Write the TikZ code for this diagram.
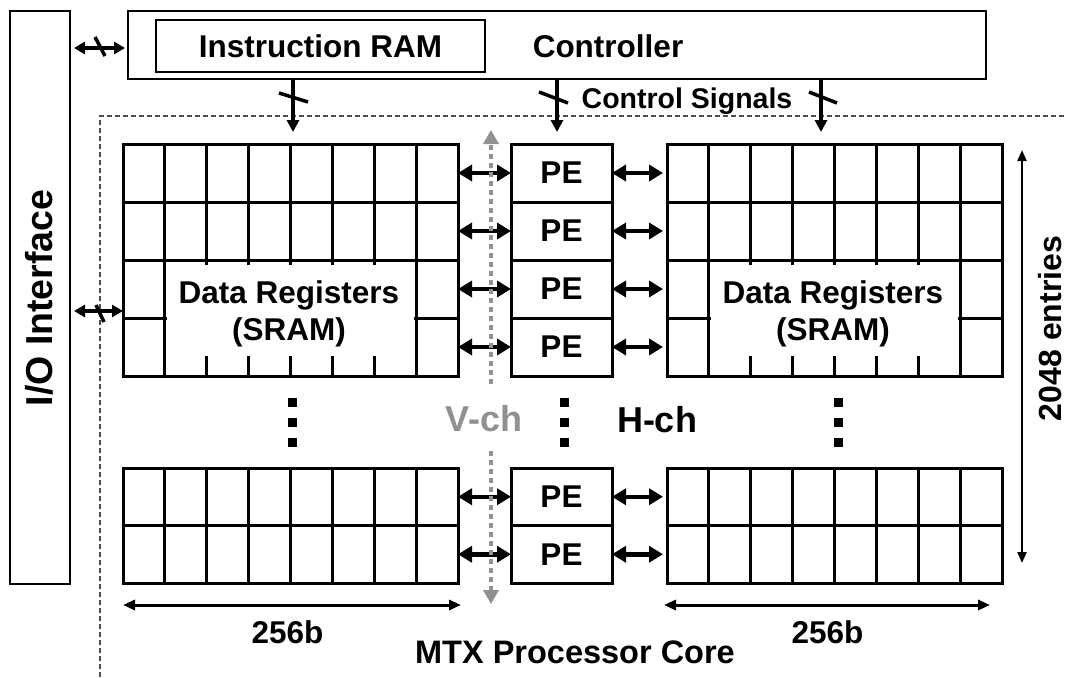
\documentclass[tikz,border=0pt]{standalone}
\usepackage{fontspec}
\setmainfont{Liberation Sans}
\usetikzlibrary{arrows.meta}
\definecolor{vgray}{RGB}{145,145,145}
\begin{document}
\begin{tikzpicture}[x=1pt,y=-1pt,
  big/.style={font=\fontsize{31.5}{37}\selectfont\bfseries, inner sep=0pt},
  chan/.style={font=\fontsize{36}{40}\selectfont\bfseries, inner sep=0pt},
  rot/.style={font=\fontsize{37.5}{42}\selectfont\bfseries, inner sep=0pt, rotate=90, anchor=base},
  box/.style={draw, line width=2.8pt, inner sep=0pt, outer sep=0pt},
  rowbox/.style={draw, line width=3pt, minimum width=335pt, minimum height=58pt, inner sep=0pt, outer sep=0pt},
  rowlow/.style={rowbox, minimum height=57.5pt},
  pebox/.style={draw, line width=3pt, minimum width=101pt, minimum height=58pt, inner sep=0pt, outer sep=0pt, font=\fontsize{31.5}{37}\selectfont\bfseries},
  pelow/.style={pebox, minimum height=57.5pt},
  gridl/.style={line width=3pt},
  dbl/.style={line width=4.5pt, {Triangle[length=14pt,width=16pt]}-{Triangle[length=14pt,width=16pt]}},
  dblsmall/.style={line width=3.5pt, {Triangle[length=11pt,width=12pt]}-{Triangle[length=11pt,width=12pt]}},
  ctl/.style={line width=3.5pt, -{Triangle[length=12pt,width=12pt]}},
  slash/.style={line width=3.5pt},
  dimarr/.style={line width=3pt, {Triangle[length=12pt,width=10pt]}-{Triangle[length=12pt,width=10pt]}},
  thinarr/.style={line width=2.2pt, {Triangle[length=11pt,width=9pt]}-{Triangle[length=11pt,width=9pt]}},
  vch/.style={line width=4.5pt, vgray, dash pattern=on 4.5pt off 4.5pt, {Triangle[length=14pt,width=15pt]}-{Triangle[length=14pt,width=15pt]}},
  edge/.style={line width=1.5pt, black!70, dash pattern=on 5pt off 3pt},
  dotsq/.style={fill=black}
]
\useasboundingbox (0,0) rectangle (1067,677);

% core boundary
\draw[edge] (100,677) -- (100,116) -- (1067,116);

% I/O interface and controller
\node[box, minimum width=60pt, minimum height=573pt] (io) at (40,297.5) {};
\node[rot] at (52,298) {I/O Interface};
\node[box, minimum width=858pt, minimum height=68pt] (ctrl) at (557,45) {};
\node[box, big, minimum width=329pt, minimum height=52pt] (iram) at (320.5,46) {Instruction RAM};
\node[big, anchor=base] (ctrltxt) at (608,58) {Controller};

% grid rows
\foreach \i/\y in {1/173,2/231,3/289,4/347} {
  \node[rowbox] (L\i) at (290.5,\y) {};
  \node[rowbox] (R\i) at (834.5,\y) {};
  \node[pebox] (P\i) at (561.5,\y) {PE};
}
\foreach \i/\y in {5/496.75,6/554.25} {
  \node[rowlow] (L\i) at (290.5,\y) {};
  \node[rowlow] (R\i) at (834.5,\y) {};
  \node[pelow] (P\i) at (561.5,\y) {PE};
}
\foreach \k in {1,...,7} {
  \draw[gridl] (123+\k*41.875,144) -- (123+\k*41.875,376);
  \draw[gridl] (123+\k*41.875,468) -- (123+\k*41.875,583);
  \draw[gridl] (667+\k*41.875,144) -- (667+\k*41.875,376);
  \draw[gridl] (667+\k*41.875,468) -- (667+\k*41.875,583);
}
\fill[white] (166.6,264.5) rectangle (414.4,355.5);
\fill[white] (710.6,264.5) rectangle (958.4,355.5);
\node[big, align=center] (dl) at (289,313.5) {Data Registers\\(SRAM)};
\node[big, align=center] (dr) at (833,313.5) {Data Registers\\(SRAM)};

% PE connections
\foreach \i in {1,...,6} {
  \draw[dbl] (L\i.east) -- (P\i.west);
  \draw[dbl, shorten >=4pt] (P\i.east) -- (R\i.west);
}

% controller connections
\coordinate (yio) at (0,48);
\draw[dblsmall, shorten <=4pt, shorten >=3pt] (io.east |- yio) -- (ctrl.west |- yio);
\draw[slash] (95,37) -- (105,56);
\coordinate (yin) at (0,311);
\draw[dblsmall, shorten <=4pt] (io.east |- yin) -- (L3.west |- yin);
\draw[slash] (96,305) -- (104,322);

\coordinate (c1) at (293,132);
\coordinate (c2) at (557,132);
\coordinate (c3) at (821,132);
\draw[ctl] (ctrl.south -| c1) -- (c1);
\draw[ctl] (ctrl.south -| c2) -- (c2);
\draw[ctl] (ctrl.south -| c3) -- (c3);
\draw[slash] (279,93) -- (308,102);
\draw[slash] (539,92) -- (568,103);
\draw[slash] (809,92) -- (837,103);
\node[font=\fontsize{28.5}{34}\selectfont\bfseries, inner sep=0pt, anchor=base] (cs) at (687,108) {Control Signals};

% vertical channel
\coordinate (vtop) at (491,130);
\coordinate (vbot) at (491,604);
\draw[vch] (vbot) -- (vtop);
\node[chan, text=vgray, fill=white, minimum height=63pt, inner xsep=2pt] (vchtxt) at (484,418.5) {V-ch};
\node[chan, anchor=base] (hch) at (657,432) {H-ch};

% vertical ellipses
\foreach \x in {292,564,838} {
  \foreach \y in {402,422,442} {
    \fill[dotsq] (\x-4.5,\y-4.5) rectangle (\x+4.5,\y+4.5);
  }
}

% dimensions
\coordinate (d1a) at (123,605);
\coordinate (d1b) at (461,605);
\coordinate (d2a) at (664,605);
\coordinate (d2b) at (990,605);
\draw[dimarr] (d1a) -- (d1b);
\draw[dimarr] (d2a) -- (d2b);
\node[big, anchor=base] (b1) at (287.5,643) {256b};
\node[big, anchor=base] (b2) at (827.5,643) {256b};
\coordinate (e1) at (1022,150);
\coordinate (e2) at (1022,563);
\draw[thinarr] (e1) -- (e2);
\node[rot, font=\fontsize{32}{38}\selectfont\bfseries] (ent) at (1061,328.5) {2048 entries};

\node[font=\fontsize{32.5}{38}\selectfont\bfseries, inner sep=0pt, anchor=base] (mtx) at (575,663) {MTX Processor Core};
\end{tikzpicture}
\end{document}
